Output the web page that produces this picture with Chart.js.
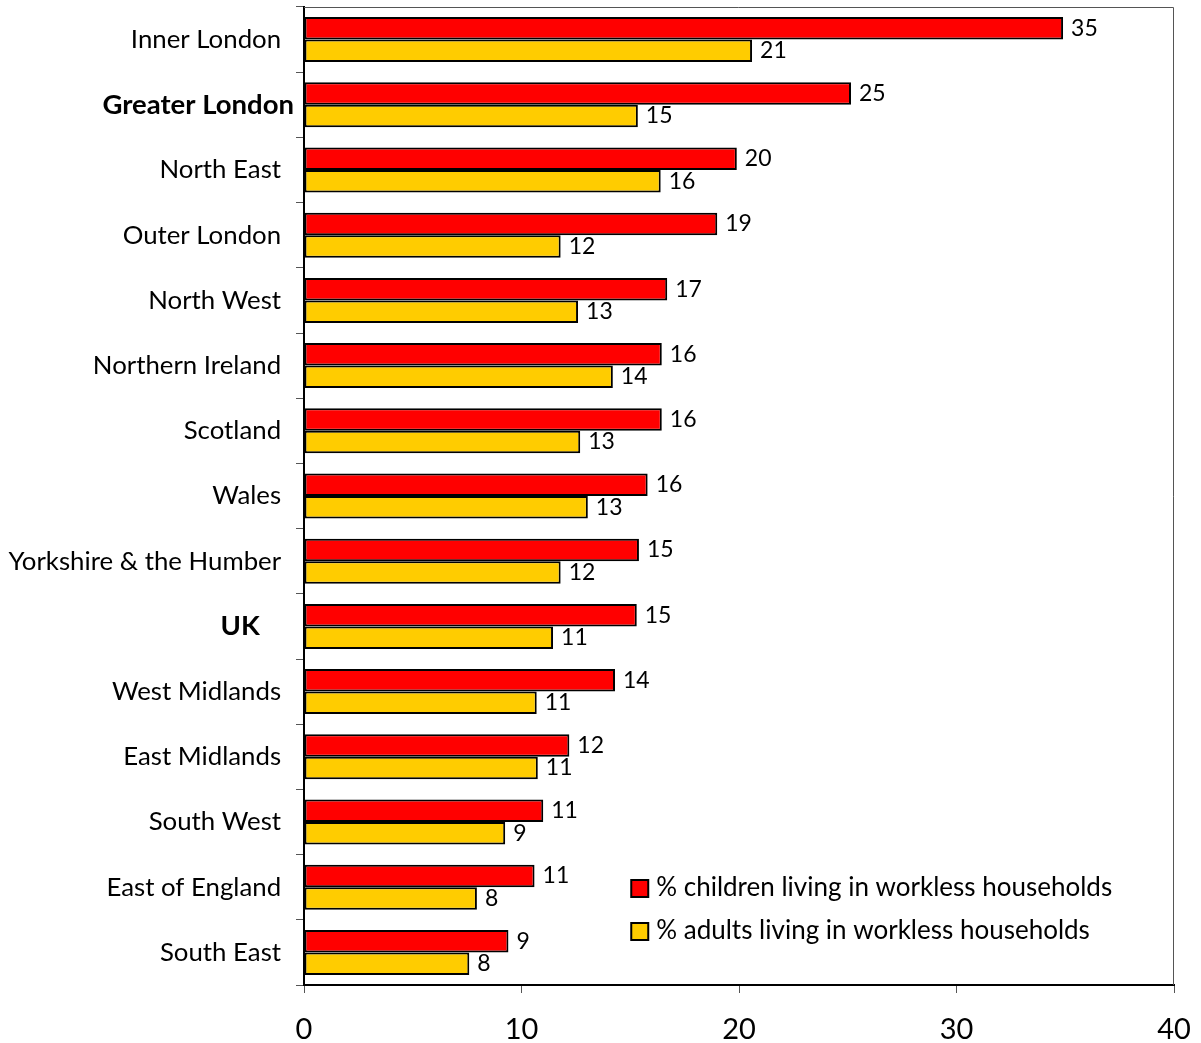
<!DOCTYPE html>
<html>
<head>
<meta charset="utf-8">
<script src="https://cdn.jsdelivr.net/npm/chart.js@4"></script>
<style>
  html, body { margin: 0; padding: 0; background: #fff; }
  #wrap { width: 1201px; height: 1043px; }
</style>
</head>
<body>
<div id="wrap"><canvas id="chart" width="1201" height="1043"></canvas></div>
<script>
const regions = ["Inner London", "Greater London", "North East", "Outer London", "North West",
    "Northern Ireland", "Scotland", "Wales", "Yorkshire & the Humber", "UK",
    "West Midlands", "East Midlands", "South West", "East of England", "South East"];
const boldRegions = ["Greater London", "UK"];
const childrenPct = [34.9, 25.15, 19.9, 19.0, 16.7, 16.45, 16.45, 15.8, 15.4, 15.3, 14.3, 12.2, 11.0, 10.6, 9.4];
const adultsPct = [20.6, 15.35, 16.4, 11.8, 12.6, 14.2, 12.7, 13.05, 11.8, 11.45, 10.7, 10.75, 9.25, 7.95, 7.6];
const xTicks = [0, 10, 20, 30, 40];

const FONT = "Lato, 'Open Sans', sans-serif";

// value labels at the end of each bar
const valueLabels = {
    id: "valueLabels",
    afterDatasetsDraw(chart) {
        const ctx = chart.ctx;
        ctx.save();
        ctx.font = "23px " + FONT;
        ctx.fillStyle = "#000";
        ctx.textAlign = "left";
        ctx.textBaseline = "middle";
        chart.data.datasets.forEach((ds, i) => {
            chart.getDatasetMeta(i).data.forEach((bar, j) => {
                ctx.fillText(Math.round(ds.data[j]), bar.x + 8, bar.y);
            });
        });
        ctx.restore();
    }
};

// grey frame on top and right, and the legend inside the plot
const frameAndLegend = {
    id: "frameAndLegend",
    beforeDatasetsDraw(chart) {
        const a = chart.chartArea, ctx = chart.ctx;
        ctx.save();
        ctx.strokeStyle = "#555";
        ctx.lineWidth = 1;
        ctx.beginPath();
        ctx.moveTo(a.left, a.top + 0.5);
        ctx.lineTo(a.right - 0.5, a.top + 0.5);
        ctx.lineTo(a.right - 0.5, a.bottom);
        ctx.stroke();
        ctx.restore();
    },
    afterDraw(chart) {
        const a = chart.chartArea, ctx = chart.ctx;
        const x0 = chart.scales.x.getPixelForValue(15);
        const rows = [a.bottom - 97, a.bottom - 54];
        ctx.save();
        ctx.font = "26px " + FONT;
        ctx.textBaseline = "middle";
        ctx.textAlign = "left";
        chart.data.datasets.forEach((ds, i) => {
            const y = rows[i];
            ctx.fillStyle = ds.backgroundColor;
            ctx.fillRect(x0 + 1, y - 8, 17, 17);
            ctx.strokeStyle = "#000";
            ctx.lineWidth = 2;
            ctx.strokeRect(x0 + 1, y - 8, 17, 17);
            ctx.fillStyle = "#000";
            ctx.fillText(ds.label, x0 + 26, y);
        });
        ctx.restore();
    }
};

new Chart(document.getElementById("chart"), {
    type: "bar",
    data: {
        labels: regions,
        datasets: [
            { label: "% children living in workless households", data: childrenPct,
              backgroundColor: "#ff0000", borderColor: "#000", borderWidth: 2, borderSkipped: false },
            { label: "% adults living in workless households", data: adultsPct,
              backgroundColor: "#ffcc00", borderColor: "#000", borderWidth: 2, borderSkipped: false }
        ]
    },
    options: {
        indexAxis: "y",
        responsive: false,
        animation: false,
        devicePixelRatio: 1,
        layout: { padding: { top: 7, right: 27, left: 0, bottom: 0 } },
        datasets: { bar: { categoryPercentage: 0.69, barPercentage: 1.0 } },
        plugins: { legend: { display: false }, tooltip: { enabled: false } },
        scales: {
            x: {
                min: 0, max: 40,
                afterBuildTicks: s => { s.ticks = xTicks.map(v => ({ value: v })); },
                afterFit: s => { s.height = 58; s.paddingLeft = 0; s.paddingRight = 0; },
                border: { color: "#000", width: 2 },
                grid: { drawOnChartArea: false, tickLength: 8, color: "#555" },
                ticks: { color: "#000", font: { family: FONT, size: 29 }, padding: 19 }
            },
            y: {
                afterFit: s => { s.width = 304; s.paddingTop = 0; s.paddingBottom = 0; },
                border: { color: "#000", width: 2 },
                grid: { drawOnChartArea: false, offset: true, tickLength: 8, color: "#555" },
                ticks: {
                    color: "#000",
                    padding: 2,
                    callback: function (v, i) {
                        const name = regions[i];
                        if (name === "UK") return name + "\u2002\u2002 ";
                        if (boldRegions.includes(name)) return name;
                        return name + "\u2002";
                    },
                    font: ctx => boldRegions.includes(regions[ctx.index])
                        ? { family: FONT, size: 27.5, weight: "bold" }
                        : { family: FONT, size: 25.8, weight: "normal" }
                }
            }
        }
    },
    plugins: [frameAndLegend, valueLabels]
});
</script>
</body>
</html>
